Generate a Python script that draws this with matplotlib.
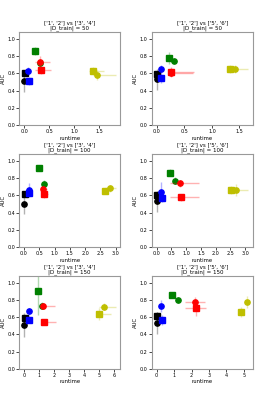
import matplotlib.pyplot as plt
from matplotlib.ticker import MaxNLocator
import numpy as np

plt.rcParams['font.size'] = 4

# panel titles / training sizes
comparisons = ["['1', '2'] vs ['3', '4']", "['1', '2'] vs ['5', '6']"]
train_sizes = [50, 100, 150]
colors = ['k', 'b', 'g', 'r', 'y']

# one row per panel (row-major: 50/34, 50/56, 100/34, 100/56, 150/34, 150/56)
# columns follow colors: black, blue, green, red, yellow
circle_runtime = [[0.00, 0.08, 0.31, 0.32, 1.46],
                  [0.00, 0.07, 0.31, 0.26, 1.42],
                  [0.00, 0.16, 0.67, 0.62, 2.80],
                  [0.00, 0.16, 0.61, 0.79, 2.68],
                  [0.00, 0.31, 1.23, 1.30, 5.32],
                  [0.00, 0.27, 1.23, 2.20, 5.20]]
circle_auc = [[0.51, 0.63, 0.72, 0.73, 0.58],
              [0.53, 0.65, 0.75, 0.61, 0.65],
              [0.50, 0.66, 0.73, 0.67, 0.68],
              [0.53, 0.64, 0.77, 0.74, 0.66],
              [0.51, 0.67, 0.735, 0.73, 0.72],
              [0.53, 0.73, 0.80, 0.78, 0.78]]
circle_rt_lo = [[0.01, 0.02, 0.05, 0.10, 0.08],
                [0.01, 0.02, 0.04, 0.03, 0.10],
                [0.01, 0.03, 0.04, 0.08, 0.15],
                [0.01, 0.03, 0.05, 0.35, 0.10],
                [0.02, 0.05, 0.10, 0.20, 0.30],
                [0.02, 0.05, 0.10, 0.60, 0.05]]
circle_rt_hi = [[0.01, 0.02, 0.05, 0.20, 0.37],
                [0.01, 0.02, 0.06, 0.40, 0.24],
                [0.01, 0.03, 0.04, 0.12, 0.20],
                [0.01, 0.03, 0.05, 0.65, 0.42],
                [0.02, 0.05, 0.10, 0.75, 0.80],
                [0.02, 0.05, 0.10, 0.60, 0.05]]
circle_auc_err = [[0.12, 0.05, 0.04, 0.07, 0.06],
                  [0.12, 0.05, 0.03, 0.05, 0.05],
                  [0.12, 0.08, 0.05, 0.04, 0.04],
                  [0.12, 0.11, 0.04, 0.04, 0.07],
                  [0.14, 0.04, 0.04, 0.04, 0.04],
                  [0.13, 0.07, 0.03, 0.05, 0.07]]

square_runtime = [[0.02, 0.09, 0.22, 0.34, 1.38],
                  [0.01, 0.08, 0.22, 0.25, 1.33],
                  [0.03, 0.18, 0.48, 0.64, 2.65],
                  [0.02, 0.18, 0.45, 0.82, 2.51],
                  [0.05, 0.36, 0.92, 1.36, 5.00],
                  [0.04, 0.33, 0.91, 2.24, 4.86]]
square_auc = [[0.61, 0.51, 0.86, 0.64, 0.63],
              [0.59, 0.55, 0.78, 0.62, 0.65],
              [0.62, 0.63, 0.92, 0.61, 0.65],
              [0.60, 0.57, 0.86, 0.58, 0.66],
              [0.59, 0.57, 0.91, 0.55, 0.64],
              [0.62, 0.57, 0.86, 0.71, 0.66]]
square_rt_lo = [[0.01, 0.02, 0.02, 0.12, 0.08],
                [0.01, 0.02, 0.04, 0.02, 0.05],
                [0.01, 0.03, 0.03, 0.09, 0.05],
                [0.01, 0.03, 0.03, 0.37, 0.05],
                [0.02, 0.05, 0.05, 0.20, 0.10],
                [0.02, 0.05, 0.08, 0.60, 0.10]]
square_rt_hi = [[0.01, 0.02, 0.02, 0.20, 0.22],
                [0.01, 0.02, 0.04, 0.42, 0.05],
                [0.01, 0.03, 0.03, 0.14, 0.05],
                [0.01, 0.03, 0.03, 0.63, 0.05],
                [0.02, 0.05, 0.05, 0.75, 0.80],
                [0.02, 0.05, 0.08, 0.60, 0.10]]
square_auc_err = [[0.03, 0.05, 0.05, 0.05, 0.04],
                  [0.03, 0.06, 0.07, 0.05, 0.05],
                  [0.02, 0.04, 0.03, 0.04, 0.04],
                  [0.03, 0.05, 0.04, 0.04, 0.05],
                  [0.04, 0.04, 0.28, 0.03, 0.07],
                  [0.04, 0.06, 0.03, 0.10, 0.06]]

fig, axes = plt.subplots(3, 2, figsize=(2.58, 4.01), dpi=100)
plt.subplots_adjust(left=0.074, right=0.98, bottom=0.08, top=0.92,
                    hspace=0.31, wspace=0.31)

for p, ax in enumerate(axes.flat):
    for c, col in enumerate(colors):
        ax.errorbar(circle_runtime[p][c], circle_auc[p][c],
                    xerr=[[circle_rt_lo[p][c]], [circle_rt_hi[p][c]]],
                    yerr=circle_auc_err[p][c], fmt='none', ecolor=col,
                    alpha=0.3, elinewidth=1)
        ax.plot(circle_runtime[p][c], circle_auc[p][c], 'o', color=col,
                markersize=3.8)
        ax.errorbar(square_runtime[p][c], square_auc[p][c],
                    xerr=[[square_rt_lo[p][c]], [square_rt_hi[p][c]]],
                    yerr=square_auc_err[p][c], fmt='none', ecolor=col,
                    alpha=0.3, elinewidth=1)
        ax.plot(square_runtime[p][c], square_auc[p][c], 's', color=col,
                markersize=3.8)
    ax.set_ylim(0, 1.08)
    ax.set_yticks(np.arange(0, 1.01, 0.2))
    ax.xaxis.set_major_locator(MaxNLocator(nbins=7, steps=[1, 2, 5, 10]))
    ax.set_title(comparisons[p % 2] + '\n|D_train| = %d' % train_sizes[p // 2],
                 fontsize=4, pad=2, linespacing=1.0)
    ax.set_xlabel('runtime', fontsize=3.8, labelpad=1)
    ax.set_ylabel('AUC', fontsize=3.8, labelpad=1)
    ax.tick_params(labelsize=3.5, length=2, pad=1, width=0.5)
    for s in ax.spines.values():
        s.set_color('0.6')

plt.savefig('out.png', dpi=100)
